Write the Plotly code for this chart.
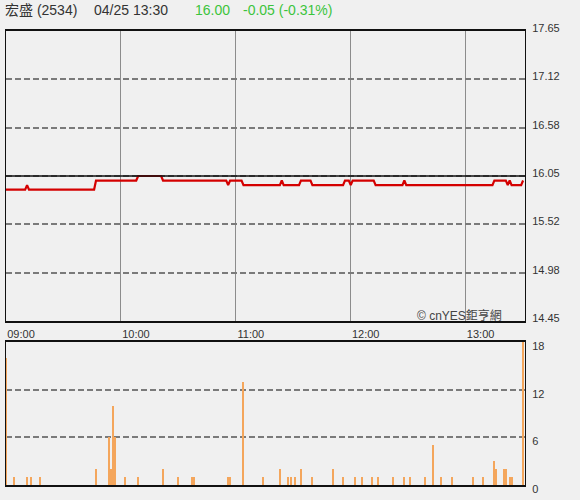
import plotly.graph_objects as go

# --- 數據 (分鐘 = 自 09:00 起算) ---
price_min = [0, 10, 11, 12, 46, 47, 68, 69, 81, 82, 115, 116, 117, 123, 124,
             143, 144, 145, 153, 154, 159, 160, 176, 177, 179, 180, 181, 192,
             193, 207, 208, 209, 254, 255, 261, 262, 263, 264, 269, 270]
price_val = [15.90, 15.90, 15.95, 15.90, 15.90, 16.00, 16.00, 16.05, 16.05, 16.00,
             16.00, 15.95, 16.00, 16.00, 15.95, 15.95, 16.00, 15.95, 15.95, 16.00,
             16.00, 15.95, 15.95, 16.00, 16.00, 15.95, 16.00, 16.00, 15.95, 15.95,
             16.00, 15.95, 15.95, 16.00, 16.00, 15.95, 16.00, 15.95, 15.95, 16.00]

vol_min = [0, 4, 11, 13, 18, 47, 54, 55, 56, 57, 62, 69, 82, 90, 97, 98, 116, 117,
           124, 134, 143, 147, 149, 151, 154, 160, 171, 176, 182, 186, 191, 194,
           202, 208, 211, 219, 223, 227, 233, 244, 249, 255, 256, 260, 261, 263,
           264, 270]
vol_val = [16, 1, 1, 1, 1, 2, 6, 2, 10, 6, 1, 1, 2, 1, 1, 1, 1, 1,
           13, 1, 2, 1, 1, 1, 2, 1, 2, 1, 1, 1, 1, 1,
           1, 1, 1, 1, 5, 1, 1, 1, 1, 3, 2, 2, 2, 1,
           1, 18]

prev_close = 16.05
price_ticks = [14.45, 14.98, 15.52, 16.05, 16.58, 17.12, 17.65]
price_tick_text = ["14.45", "14.98", "15.52", "16.05", "16.58", "17.12", "17.65"]
vol_ticks = [0, 6, 12, 18]
time_ticks = [0, 60, 120, 180, 240]
time_labels = ["09:00", "10:00", "11:00", "12:00", "13:00"]

FONT = "Liberation Sans, Arial, Noto Sans CJK TC, sans-serif"
BG = "#f0f0f0"

fig = go.Figure()

# 價格走勢線
fig.add_trace(go.Scatter(
    x=price_min, y=price_val, mode="lines",
    line=dict(color="#d40000", width=2.2),
    xaxis="x", yaxis="y", hoverinfo="skip"
))

# 成交量
fig.add_trace(go.Bar(
    x=vol_min, y=vol_val, width=0.54,
    marker=dict(color="#f4a65c", line=dict(width=0)),
    xaxis="x2", yaxis="y2", hoverinfo="skip"
))

def px_x(p):
    # 畫布像素 -> paper 座標 (x)
    return (p - 6) / 519

def px_y(p):
    # 畫布像素 -> paper 座標 (y)
    return (485 - p) / 454

header = [
    ("宏盛 (2534)", 3, "#333333"),
    ("04/25 13:30", 92, "#333333"),
    ("16.00", 193, "#3cc43c"),
    ("-0.05 (-0.31%)", 241, "#3cc43c"),
]
annotations = []
for txt, xp, col in header:
    annotations.append(dict(
        text=txt, x=px_x(xp), y=px_y(10), xref="paper", yref="paper",
        xanchor="left", yanchor="middle", showarrow=False,
        font=dict(size=14, color=col, family=FONT)
    ))

# 浮水印
annotations.append(dict(
    text="© cnYES鉅亨網", x=px_x(504), y=px_y(315), xref="paper", yref="paper",
    xanchor="right", yanchor="middle", showarrow=False,
    font=dict(size=12, color="#444444", family=FONT)
))

fig.update_layout(
    width=580, height=500,
    margin=dict(l=6, r=55, t=31, b=15),
    paper_bgcolor=BG, plot_bgcolor=BG,
    showlegend=False, hovermode=False,
    font=dict(family=FONT, size=11, color="#333333"),
    annotations=annotations,
    shapes=[dict(
        type="line", xref="x domain", yref="y", x0=0, x1=1,
        y0=prev_close, y1=prev_close, layer="above",
        line=dict(color="#111111", width=1.5)
    )],
    xaxis=dict(
        domain=[0, 1], anchor="y", range=[0, 271],
        tickvals=time_ticks, ticktext=time_labels, ticks="",
        ticklabelshift=15, ticklabelstandoff=2,
        showgrid=True, gridcolor="#8c8c8c", gridwidth=1,
        showline=True, mirror=True, linecolor="#111111", linewidth=1.5,
        zeroline=False, fixedrange=True
    ),
    yaxis=dict(
        domain=[px_y(321), 1], anchor="x", side="right",
        range=[14.45, 17.65], tickvals=price_ticks, ticktext=price_tick_text,
        ticks="", ticklabelstandoff=4, ticklabelshift=-3,
        showgrid=True, gridcolor="#7a7a7a", gridwidth=1.5, griddash="6px,3px",
        showline=True, mirror=True, linecolor="#111111", linewidth=1,
        zeroline=False, fixedrange=True
    ),
    xaxis2=dict(
        domain=[0, 1], anchor="y2", range=[0, 271], matches="x",
        showticklabels=False, ticks="", showgrid=False,
        showline=True, mirror=True, linecolor="#111111", linewidth=1.5,
        zeroline=False, fixedrange=True
    ),
    yaxis2=dict(
        domain=[0, px_y(342)], anchor="x2", side="right",
        range=[0, 18], tickvals=vol_ticks, ticks="", ticklabelstandoff=4,
        ticklabelshift=4,
        showgrid=True, gridcolor="#7a7a7a", gridwidth=1.5, griddash="6px,3px",
        showline=True, mirror=True, linecolor="#111111", linewidth=1,
        zeroline=False, fixedrange=True
    ),
    bargap=0,
)

fig.write_html("out.html", config={"displayModeBar": False},
               post_script="document.body.style.margin='0';")
